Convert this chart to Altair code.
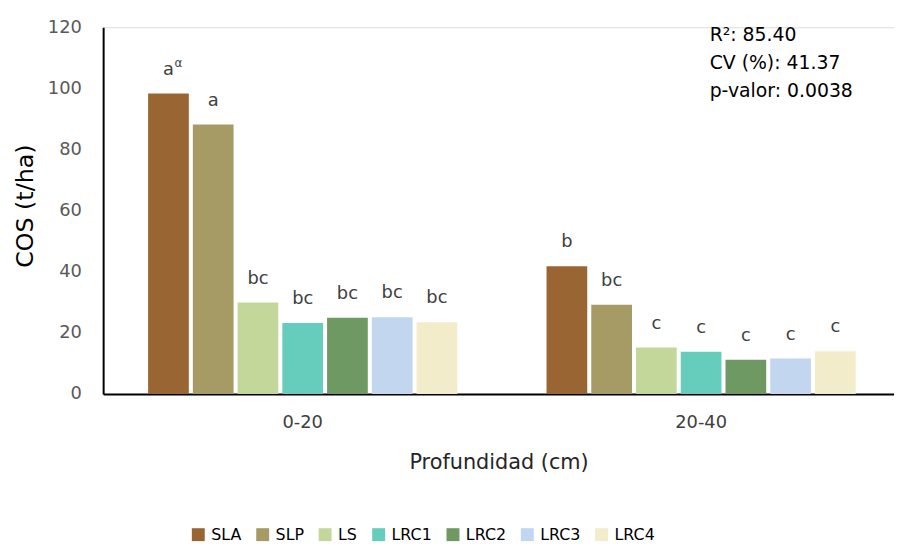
import altair as alt
import pandas as pd

depths = ["0-20", "20-40"]
treatments = ["SLA", "SLP", "LS", "LRC1", "LRC2", "LRC3", "LRC4"]
colors = ["#996633", "#A69A65", "#C4D79B", "#66CCBC", "#6F9963", "#C3D6EF", "#F2ECCB"]
cos_0_20 = [98.3, 88.2, 29.9, 23.2, 24.9, 25.1, 23.5]
cos_20_40 = [41.8, 29.2, 15.2, 13.8, 11.2, 11.6, 14.0]
letters_0_20 = ["a", "a", "bc", "bc", "bc", "bc", "bc"]
letters_20_40 = ["b", "bc", "c", "c", "c", "c", "c"]
sup_0_20 = ["α", "", "", "", "", "", ""]
sup_20_40 = ["", "", "", "", "", "", ""]
stats_lines = ["R²: 85.40", "CV (%): 41.37", "p-valor: 0.0038"]

rows = []
for d, vals, lets, sups in [("0-20", cos_0_20, letters_0_20, sup_0_20),
                            ("20-40", cos_20_40, letters_20_40, sup_20_40)]:
    for t, v, l, s in zip(treatments, vals, lets, sups):
        rows.append({"depth": d, "trt": t, "cos": v, "lab": l, "sup": s})
df = pd.DataFrame(rows)

FONT = "DejaVu Sans"
YDOM = [0, 120]

x_enc = alt.X("depth:N", sort=depths,
              scale=alt.Scale(paddingInner=0.224, paddingOuter=0.1045, align=0.54),
              axis=alt.Axis(title="Profundidad (cm)", labelAngle=0, labelFontSize=18,
                            labelColor="#404040", labelPadding=20, ticks=False, tickSize=0,
                            titleFontSize=21, titleFontWeight="normal", titleColor="#262626",
                            titlePadding=20, domainColor="#000000", domainWidth=2))
xo_enc = alt.XOffset("trt:N", sort=treatments,
                     scale=alt.Scale(paddingInner=0.09, paddingOuter=0))
y_enc = alt.Y("cos:Q", scale=alt.Scale(domain=YDOM),
              axis=alt.Axis(title="COS (t/ha)", values=[0, 20, 40, 60, 80, 100, 120],
                            grid=False, labelFontSize=18, labelColor="#595959",
                            labelPadding=22, ticks=False, tickSize=0,
                            titleFontSize=24, titleFontWeight="normal", titleColor="#000000",
                            titlePadding=10, titleY=180,
                            domainColor="#000000", domainWidth=2))

bars = alt.Chart(df).mark_bar().encode(
    x=x_enc, xOffset=xo_enc, y=y_enc,
    color=alt.Color("trt:N", sort=treatments,
                    scale=alt.Scale(domain=treatments, range=colors),
                    legend=alt.Legend(title=None, orient="none", direction="horizontal",
                                      legendX=88, legendY=504, symbolType="square",
                                      symbolSize=170, symbolStrokeWidth=0,
                                      labelFontSize=16, labelColor="#000000",
                                      labelFont=FONT, labelOffset=5, columnPadding=13,
                                      symbolOpacity=1)),
)

y_lab = alt.Y("cos:Q", scale=alt.Scale(domain=YDOM), axis=None)

labels = alt.Chart(df).mark_text(baseline="alphabetic", dy=-19, fontSize=18,
                                 color="#404040", font=FONT).encode(
    x=alt.X("depth:N", sort=depths), xOffset=alt.XOffset("trt:N", sort=treatments),
    y=y_lab, text="lab:N")

sups = alt.Chart(df).mark_text(baseline="alphabetic", dx=10, dy=-27, fontSize=12,
                               color="#404040", font=FONT).encode(
    x=alt.X("depth:N", sort=depths), xOffset=alt.XOffset("trt:N", sort=treatments),
    y=y_lab, text="sup:N")

stats_df = pd.DataFrame({"line": stats_lines, "i": list(range(len(stats_lines)))})
stats = alt.Chart(stats_df).mark_text(align="left", baseline="middle", fontSize=19,
                                      color="#000000", font=FONT).encode(
    x=alt.value(612),
    y=alt.Y("i:Q", scale=alt.Scale(domain=[0, 2], range=[8, 64]), axis=None),
    text="line:N")

chart = alt.layer(bars, labels, sups, stats).resolve_scale(y="independent").properties(
    width=798, height=370,
    autosize=alt.AutoSizeParams(type="none"),
    padding={"left": 96, "top": 17, "right": 0, "bottom": 149},
).configure_view(stroke=None).configure(font=FONT)

chart.save("out.html", embed_options={"renderer": "svg", "actions": False})
